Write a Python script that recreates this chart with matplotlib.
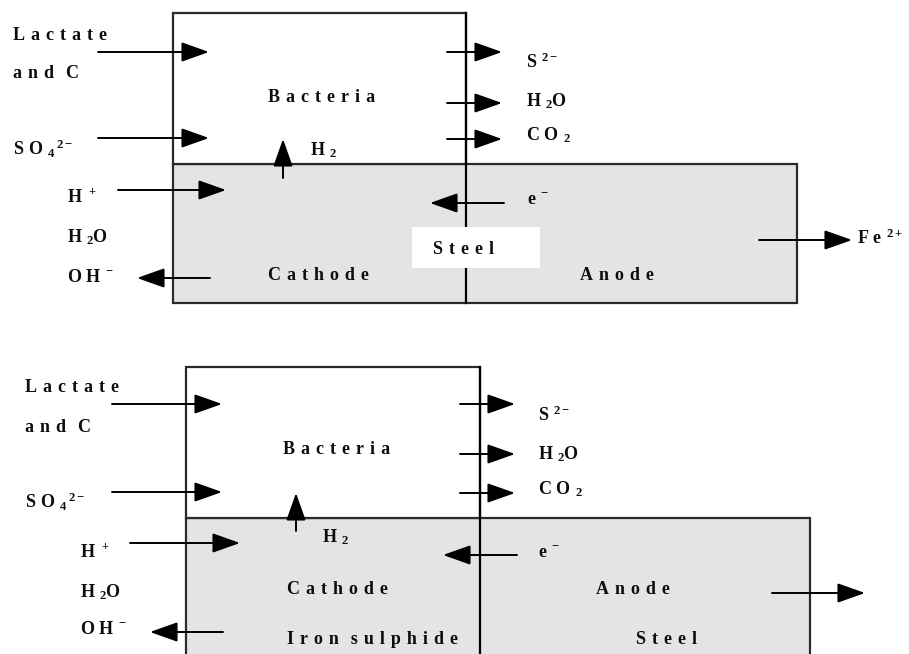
import matplotlib
matplotlib.use('Agg')
import matplotlib.pyplot as plt
from matplotlib.patches import Rectangle

plt.rcParams['font.family'] = ['Liberation Serif', 'DejaVu Serif']
plt.rcParams['font.weight'] = 'bold'
plt.rcParams['mathtext.fontset'] = 'custom'
plt.rcParams['mathtext.rm'] = 'Liberation Serif:bold'
plt.rcParams['mathtext.it'] = 'Liberation Serif:bold'
plt.rcParams['mathtext.bf'] = 'Liberation Serif:bold'

SP = '\u2004'  # letter spacing used in the original labels


def spaced(word):
    return SP.join(word)


# labels (both panels share most of them)
inputs = [spaced('Lactate'), spaced('and') + SP + SP + 'C',
          r'$\mathrm{S\ O\ {}_{4}\,{}^{2-}}$']
cathode_side = [r'$\mathrm{H\ \,{}^{+}}$', r'$\mathrm{H\ {}_{2}O}$', r'$\mathrm{O\ H\ {}^{-}}$']
products = [r'$\mathrm{S\ {}^{2-}}$', r'$\mathrm{H\ {}_{2}O}$', r'$\mathrm{C\ O\ {}_{2}}$']
h2_label = r'$\mathrm{H\ {}_{2}}$'
e_label = r'$\mathrm{e\ {}^{-}}$'
fe_label = r'$\mathrm{F\ e\ {}^{2+}}$'
bacteria = spaced('Bacteria')
cathode = spaced('Cathode')
anode = spaced('Anode')
steel = spaced('Steel')
iron_sulphide = spaced('Iron') + SP + SP + spaced('sulphide')

FS = 13
TXT = '#0d0d0d'
EDGE = '#2a2a2a'
GRAY = '#e4e4e4'

fig = plt.figure(figsize=(9.09, 6.54), dpi=100)
ax = fig.add_axes([0, 0, 1, 1])
ax.set_xlim(0, 909)
ax.set_ylim(654, 0)
ax.axis('off')


def txt(x, y, s, **kw):
    ax.text(x, y, s, fontsize=FS, color=TXT, ha='left', va='center',
            fontweight='bold', **kw)


def arrow(x0, y0, x1, y1):
    ax.annotate('', xy=(x1, y1), xytext=(x0, y0),
                arrowprops=dict(arrowstyle='-|>,head_length=1.55,head_width=0.55',
                                mutation_scale=11, lw=1.4, color='black',
                                shrinkA=0, shrinkB=0))


# ---------------- top panel ----------------
ax.add_patch(Rectangle((173, 164), 624, 139, facecolor=GRAY, edgecolor=EDGE, lw=1.6))
ax.add_patch(Rectangle((173, 13), 293, 151, facecolor='white', edgecolor=EDGE, lw=1.6))
ax.plot([466, 466], [13, 303], color='black', lw=1.6)
ax.add_patch(Rectangle((412, 227), 128, 41, facecolor='white', edgecolor='none', zorder=3))

txt(13, 35, inputs[0])
txt(13, 73, inputs[1])
txt(13, 149, inputs[2])
txt(67, 197, cathode_side[0])
txt(67, 237, cathode_side[1])
txt(67, 277, cathode_side[2])
txt(268, 98, bacteria)
txt(310, 150, h2_label)
txt(268, 275, cathode)
txt(580, 275, anode)
txt(433, 250, steel, zorder=4)
txt(526, 62, products[0])
txt(526, 101, products[1])
txt(526, 135, products[2])
txt(527, 200, e_label)
txt(857, 238, fe_label)

arrow(98, 52, 209, 52)
arrow(98, 138, 209, 138)
arrow(118, 190, 226, 190)
arrow(210, 278, 137, 278)
arrow(283, 178, 283, 139)
for y in [52, 103, 139]:
    arrow(447, y, 502, y)
arrow(504, 203, 430, 203)
arrow(759, 240, 852, 240)

# ---------------- bottom panel ----------------
ax.add_patch(Rectangle((186, 518), 624, 200, facecolor=GRAY, edgecolor=EDGE, lw=1.6))
ax.add_patch(Rectangle((186, 367), 294, 151, facecolor='white', edgecolor=EDGE, lw=1.6))
ax.plot([480, 480], [367, 700], color='black', lw=1.6)

txt(25, 388, inputs[0])
txt(25, 427, inputs[1])
txt(25, 502, inputs[2])
txt(80, 552, cathode_side[0])
txt(80, 592, cathode_side[1])
txt(80, 630, cathode_side[2])
txt(283, 449, bacteria)
txt(322, 537, h2_label)
txt(287, 590, cathode)
txt(287, 640, iron_sulphide)
txt(596, 590, anode)
txt(636, 640, steel)
txt(538, 415, products[0])
txt(538, 454, products[1])
txt(538, 489, products[2])
txt(538, 553, e_label)

arrow(112, 404, 222, 404)
arrow(112, 492, 222, 492)
arrow(130, 543, 240, 543)
arrow(223, 632, 150, 632)
arrow(296, 531, 296, 493)
for y in [404, 454, 493]:
    arrow(460, y, 515, y)
arrow(517, 555, 443, 555)
arrow(772, 593, 865, 593)

fig.savefig('out.png', dpi=100)
